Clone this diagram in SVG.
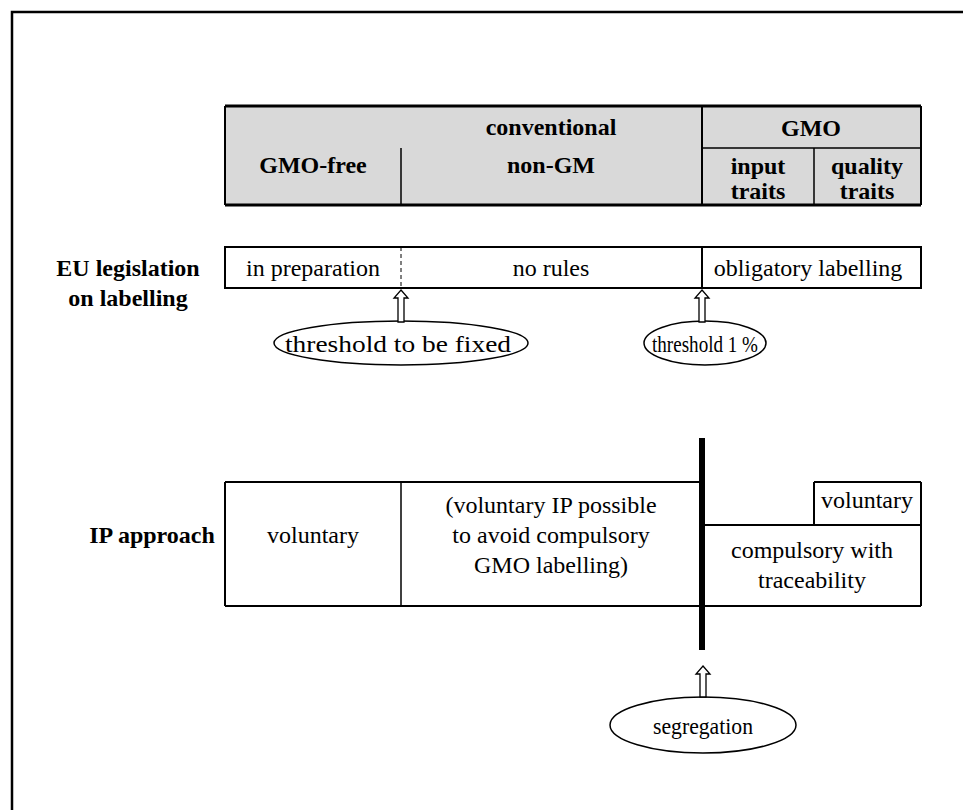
<svg xmlns="http://www.w3.org/2000/svg" width="963" height="810" viewBox="0 0 963 810">
<rect x="0" y="0" width="963" height="810" fill="#fff"/>
<path d="M12 820 V12 H980" stroke="#000" fill="none" stroke-width="2.5"/>
<g id="header">
<rect x="225" y="106" width="696" height="99" fill="#d9d9d9"/>
<path d="M225 106 H921 M225 205 H921" stroke="#000" fill="none" stroke-width="3"/>
<path d="M225 106 V205 M921 106 V205 M702 106 V205" stroke="#000" fill="none" stroke-width="2"/>
<path d="M401 148 V205 M814 148 V205 M702 148 H921" stroke="#000" fill="none" stroke-width="1.5"/>
<text font-family="'Liberation Serif', Tinos, serif" font-size="24" font-weight="bold" text-anchor="middle" x="313" y="173">GMO-free</text>
<text font-family="'Liberation Serif', Tinos, serif" font-size="24" font-weight="bold" text-anchor="middle" x="551" y="135">conventional</text>
<text font-family="'Liberation Serif', Tinos, serif" font-size="24" font-weight="bold" text-anchor="middle" x="551" y="173">non-GM</text>
<text font-family="'Liberation Serif', Tinos, serif" font-size="24" font-weight="bold" text-anchor="middle" x="811" y="136">GMO</text>
<text font-family="'Liberation Serif', Tinos, serif" font-size="24" font-weight="bold" text-anchor="middle" x="758" y="174">input</text>
<text font-family="'Liberation Serif', Tinos, serif" font-size="24" font-weight="bold" text-anchor="middle" x="758" y="199">traits</text>
<text font-family="'Liberation Serif', Tinos, serif" font-size="24" font-weight="bold" text-anchor="middle" x="867" y="174">quality</text>
<text font-family="'Liberation Serif', Tinos, serif" font-size="24" font-weight="bold" text-anchor="middle" x="867" y="199">traits</text>
</g>
<g id="eu-label">
<text font-family="'Liberation Serif', Tinos, serif" font-size="24" font-weight="bold" text-anchor="middle" x="128" y="276">EU legislation</text>
<text font-family="'Liberation Serif', Tinos, serif" font-size="24" font-weight="bold" text-anchor="middle" x="128" y="306">on labelling</text>
</g>
<g id="eu-row">
<rect x="225" y="247" width="696" height="41" fill="#fff" stroke="#000" stroke-width="2"/>
<path d="M401 247 V288" stroke="#000" fill="none" stroke-width="1" stroke-dasharray="4,3"/>
<path d="M702 247 V288" stroke="#000" fill="none" stroke-width="2"/>
<text font-family="'Liberation Serif', Tinos, serif" font-size="24" text-anchor="middle" x="313" y="276">in preparation</text>
<text font-family="'Liberation Serif', Tinos, serif" font-size="24" text-anchor="middle" x="551" y="276">no rules</text>
<text font-family="'Liberation Serif', Tinos, serif" font-size="24" text-anchor="middle" x="808" y="276">obligatory labelling</text>
</g>
<g id="threshold-fixed">
<ellipse cx="401" cy="343" rx="127" ry="22" fill="#fff" stroke="#000" stroke-width="1.5"/>
<text font-family="'Liberation Serif', Tinos, serif" font-size="24" text-anchor="middle" x="398" y="352" textLength="226" lengthAdjust="spacingAndGlyphs">threshold to be fixed</text>
</g>
<g id="threshold-1">
<ellipse cx="705" cy="343" rx="61" ry="22" fill="#fff" stroke="#000" stroke-width="1.5"/>
<text font-family="'Liberation Serif', Tinos, serif" font-size="24" text-anchor="middle" x="705" y="352" textLength="106" lengthAdjust="spacingAndGlyphs">threshold 1 %</text>
</g>
<g id="ip-label">
<text font-family="'Liberation Serif', Tinos, serif" font-size="24" font-weight="bold" text-anchor="middle" x="152" y="543">IP approach</text>
</g>
<g id="ip-row">
<path d="M225 482 H702 M225 606 H921 M225 482 V606 M921 482 V606 M702 525 H921 M814 482 H921 M814 482 V525" stroke="#000" fill="none" stroke-width="2"/>
<path d="M401 482 V606" stroke="#000" fill="none" stroke-width="1.5"/>
<text font-family="'Liberation Serif', Tinos, serif" font-size="24" text-anchor="middle" x="313" y="543">voluntary</text>
<text font-family="'Liberation Serif', Tinos, serif" font-size="24" text-anchor="middle" x="551" y="513">(voluntary IP possible</text>
<text font-family="'Liberation Serif', Tinos, serif" font-size="24" text-anchor="middle" x="551" y="543">to avoid compulsory</text>
<text font-family="'Liberation Serif', Tinos, serif" font-size="24" text-anchor="middle" x="551" y="573">GMO labelling)</text>
<text font-family="'Liberation Serif', Tinos, serif" font-size="24" text-anchor="middle" x="867" y="508">voluntary</text>
<text font-family="'Liberation Serif', Tinos, serif" font-size="24" text-anchor="middle" x="812" y="558">compulsory with</text>
<text font-family="'Liberation Serif', Tinos, serif" font-size="24" text-anchor="middle" x="812" y="588">traceability</text>
</g>
<g id="segregation">
<ellipse cx="703" cy="725" rx="93" ry="28" fill="#fff" stroke="#000" stroke-width="1.5"/>
<text font-family="'Liberation Serif', Tinos, serif" font-size="24" text-anchor="middle" x="703" y="734" textLength="100" lengthAdjust="spacingAndGlyphs">segregation</text>
</g>
<g id="connectors" fill="#fff" stroke="#000" stroke-width="1.3">
<path d="M702 438 V650" fill="none" stroke-width="6"/>
<path d="M401 290 L408 298 L404 298 L404 322 L398 322 L398 298 L394 298 Z"/>
<path d="M702 290 L709 298 L705 298 L705 322 L699 322 L699 298 L695 298 Z"/>
<path d="M703 666 L710 674 L706 674 L706 697 L700 697 L700 674 L696 674 Z"/>
</g>
</svg>
